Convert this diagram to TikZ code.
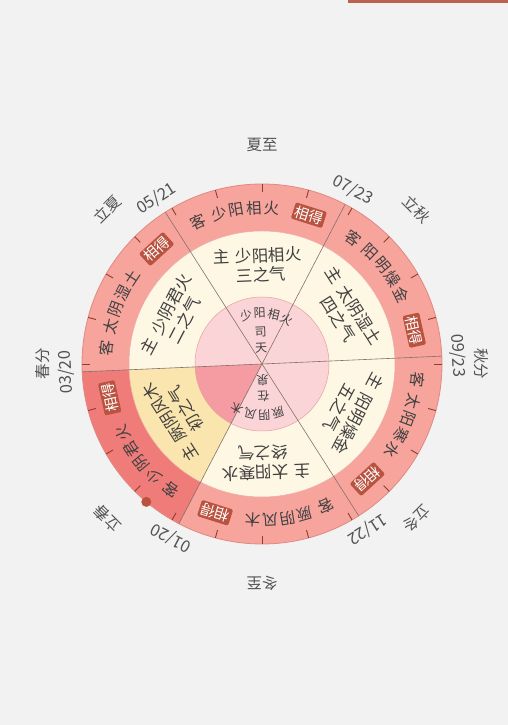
\documentclass[tikz,border=0pt]{standalone}
\usepackage{fontspec}
\newfontfamily\cjk{Noto Sans CJK SC}

\definecolor{pagebg}{HTML}{F2F2F2}
\definecolor{topbar}{HTML}{B8624F}
\definecolor{outerpink}{HTML}{F6A49C}
\definecolor{outernow}{HTML}{F07C79}
\definecolor{outeredge}{HTML}{E08A82}
\definecolor{creamring}{HTML}{FDF7E4}
\definecolor{creamnow}{HTML}{FBE5AE}
\definecolor{innerpink}{HTML}{FAD4D6}
\definecolor{innernow}{HTML}{F59CA2}
\definecolor{badgered}{HTML}{B9523F}
\definecolor{tickred}{HTML}{8E3B30}
\definecolor{divline}{HTML}{86716A}
\definecolor{labelgrey}{HTML}{404040}

\begin{document}
\begin{tikzpicture}[x=1pt,y=1pt,
  outerchar/.style={text=labelgrey,inner sep=0pt,font=\cjk\fontsize{15.5}{16}\selectfont},
  badge/.style={fill=badgered,text=white,rounded corners=2pt,inner sep=1.8pt,font=\cjk\fontsize{14.5}{15}\selectfont},
  midtext/.style={text=labelgrey,inner sep=0pt,font=\cjk\fontsize{16.5}{19}\selectfont},
  innerchar/.style={text=labelgrey,inner sep=0pt,font=\cjk\fontsize{12}{12}\selectfont},
  datelabel/.style={text=labelgrey!90,inner sep=0pt,font=\cjk\fontsize{16.5}{17}\selectfont},
  termlabel/.style={text=labelgrey!90,inner sep=0pt,font=\cjk\fontsize{15.5}{16}\selectfont},
  divider/.style={draw=divline,line width=0.6pt},
  tickmark/.style={draw=tickred,line width=0.9pt}]

\useasboundingbox (0,0) rectangle (508,725);
\fill[pagebg] (0,0) rectangle (508,725);
\fill[topbar] (348,721.5) rectangle (508,725);

\begin{scope}[shift={(262,361)}]
\coordinate (O) at (0,0);

% rings, the current step darker
\fill[outerpink] (O) circle[radius=180pt];
\fill[outernow] (O) -- (182.5:180) arc[start angle=182.5,end angle=242.5,radius=180pt] -- cycle;
\fill[creamring] (O) circle[radius=133pt];
\fill[creamnow] (O) -- (182.5:133) arc[start angle=182.5,end angle=242.5,radius=133pt] -- cycle;
\fill[innerpink] (O) circle[radius=67pt];
\fill[innernow] (O) -- (182.5:67) arc[start angle=182.5,end angle=242.5,radius=67pt] -- cycle;

\draw[outeredge,line width=0.8pt] (O) circle[radius=180pt];
\draw[outeredge!70,line width=0.5pt] (O) circle[radius=133pt];
\draw[outeredge!80,line width=0.5pt] (O) circle[radius=67pt];

\foreach \a in {2.5,62.5,...,302.5}
  \draw[divider] (O) -- (\a:180);

\foreach \t in {0,15,...,345}
  \draw[tickmark] (\t:172) -- (\t:180);

% ke qi
\foreach \m/\a/\b/\c/\d [count=\i] in {92.5/少/阳/相/火, 32.5/阳/明/燥/金, -27.5/太/阳/寒/水,
    -87.5/厥/阴/风/木, -147.5/少/阴/君/火, 152.5/太/阴/湿/土} {
  \node[outerchar,rotate=\m+21.5-90] (ke\i) at (\m+21.5:156) {客};
  \node[outerchar,rotate=\m+13.5-90] (ka\i) at (\m+13.5:156) {\a};
  \node[outerchar,rotate=\m+7-90] (kb\i) at (\m+7:156) {\b};
  \node[outerchar,rotate=\m+0.5-90] (kc\i) at (\m+0.5:156) {\c};
  \node[outerchar,rotate=\m-6-90] (kd\i) at (\m-6:156) {\d};
  \node[badge,rotate=\m-20-90] (xd\i) at (\m-20:156) {相得};
}

% zhu qi
\foreach \m/\a/\b [count=\i] in {92.5/少阳相火/三之气, 32.5/太阴湿土/四之气, -27.5/阳明燥金/五之气,
    -87.5/太阳寒水/终之气, -147.5/厥阴风木/初之气, 152.5/少阴君火/二之气}
  \node[midtext,rotate=\m-90] (zhu\i) at (\m:96.5)
    {主\hspace{6pt}\begin{tabular}[t]{@{}l@{}}\a\\\b\end{tabular}};

% si tian, zai quan
\foreach \ch [count=\k] in {少,阳,相,火}
  \node[innerchar,rotate=92.5+31.5-15.75*\k-90] (st\k) at (92.5+31.5-15.75*\k:51) {\ch};
\node[innerchar,rotate=2.5] (si) at (92.5:32) {司};
\node[innerchar,rotate=2.5] (tian) at (92.5:16) {天};
\foreach \ch [count=\k] in {厥,阴,风,木}
  \node[innerchar,rotate=-87.5+31.5-15.75*\k-90] (zq\k) at (-87.5+31.5-15.75*\k:51) {\ch};
\node[innerchar,rotate=-177.5] (zai) at (-87.5:32) {在};
\node[innerchar,rotate=-177.5] (quan) at (-87.5:16) {泉};

% dates
\node[datelabel,rotate=92.5] (d0320) at (182.5:196) {03/20};
\node[datelabel,rotate=32.5] (d0521) at (122.5:196) {05/21};
\node[datelabel,rotate=-27.5] (d0723) at (62.5:196) {07/23};
\node[datelabel,rotate=-87.5] (d0923) at (2.5:196) {09/23};
\node[datelabel,rotate=-147.5] (d1122) at (-57.5:196) {11/22};
\node[datelabel,rotate=152.5] (d0120) at (242.5:196) {01/20};

% solar terms
\foreach \t/\name [count=\i] in {90/夏至, 45/立秋, 0/秋分, -45/立冬, -90/冬至, -135/立春, 180/春分, 135/立夏}
  \node[termlabel,rotate=\t-90] (jq\i) at (\t:219) {\name};

% today
\fill[badgered] (-130:180) circle[radius=5pt];
\end{scope}

\end{tikzpicture}
\end{document}
